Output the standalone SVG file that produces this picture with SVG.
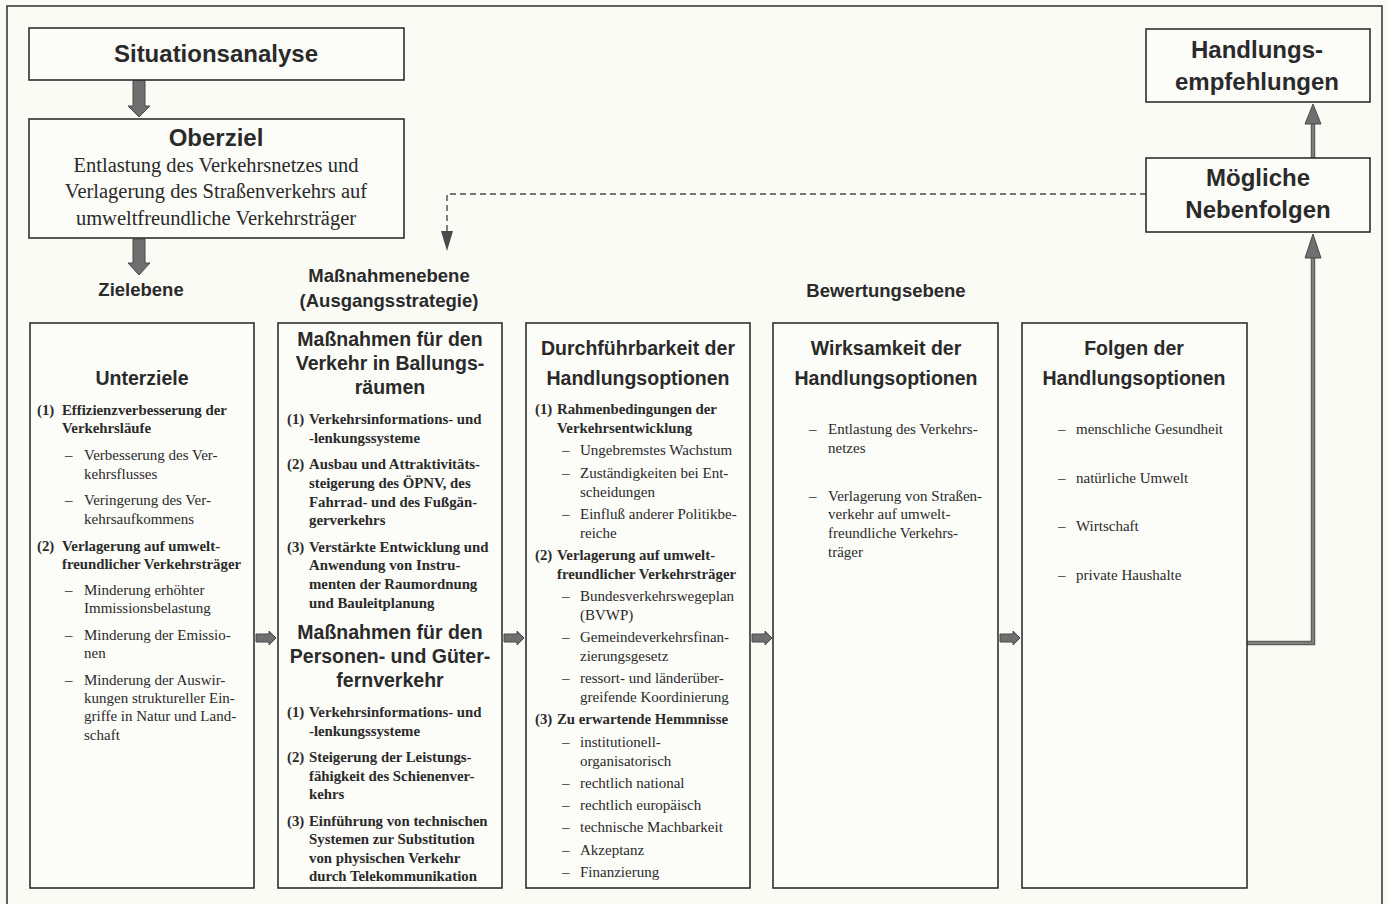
<svg xmlns="http://www.w3.org/2000/svg" width="1388" height="904" viewBox="0 0 1388 904">
<defs>
<style>
.bg{fill:#fbfbf6}
.box{fill:#fcfcf8;stroke:#2f2f2f;stroke-width:1.6}
.frame{fill:none;stroke:#3a3a3a;stroke-width:1.6}
.h1{font-family:"Liberation Sans",Arial,sans-serif;font-weight:bold;font-size:24px;fill:#2a2a2a;text-anchor:middle}
.h2{font-family:"Liberation Sans",Arial,sans-serif;font-weight:bold;font-size:19.5px;fill:#2a2a2a;text-anchor:middle}
.lvl{font-family:"Liberation Sans",Arial,sans-serif;font-weight:bold;font-size:18.5px;fill:#2a2a2a;text-anchor:middle}
.ser{font-family:"Liberation Serif","Times New Roman",serif;font-size:20.5px;fill:#2a2a2a;text-anchor:middle}
.t{font-family:"Liberation Serif","Times New Roman",serif;font-size:15px;fill:#2a2a2a}
.b{font-family:"Liberation Serif","Times New Roman",serif;font-size:14.8px;font-weight:bold;fill:#2a2a2a}
.garrow{fill:#6f6f6f;stroke:#4a4a4a;stroke-width:1}
.thick{fill:none;stroke:#5e5e5e;stroke-width:4.5}
.thickin{fill:none;stroke:#8a8a8a;stroke-width:1.5}
.dash{fill:none;stroke:#4a4a4a;stroke-width:1.4;stroke-dasharray:6 4}
</style>
</defs>
<rect class="bg" x="0" y="0" width="1388" height="904"/>
<rect class="frame" x="7" y="6" width="1375" height="910"/>

<g id="connectors">
  <!-- Situationsanalyse -> Oberziel -->
  <polygon class="garrow" points="133,80 145,80 145,106 150,106 139,117 128,106 133,106"/>
  <!-- Oberziel -> Zielebene -->
  <polygon class="garrow" points="133,239 145,239 145,263 150,263 139,275 128,263 133,263"/>
  <!-- dashed feedback from Mögliche Nebenfolgen to Maßnahmenebene -->
  <path class="dash" d="M1146,194 H447 V236"/>
  <polygon points="441,231 453,231 447,251" fill="#4a4a4a"/>
  <!-- column arrows -->
  <polygon class="garrow" points="256,634 269,634 269,631 276,638 269,645 269,642 256,642"/>
  <polygon class="garrow" points="504,634 517,634 517,631 524,638 517,645 517,642 504,642"/>
  <polygon class="garrow" points="752,634 765,634 765,631 772,638 765,645 765,642 752,642"/>
  <polygon class="garrow" points="1000,634 1013,634 1013,631 1020,638 1013,645 1013,642 1000,642"/>
  <!-- Folgen -> Mögliche Nebenfolgen -->
  <path class="thick" d="M1247,643 H1313 V256"/>
  <path class="thickin" d="M1247,643 H1313 V256"/>
  <polygon class="garrow" points="1305,258 1313,234 1321,258"/>
  <!-- Mögliche Nebenfolgen -> Handlungsempfehlungen -->
  <path class="thick" d="M1313,158 V124"/>
  <path class="thickin" d="M1313,158 V124"/>
  <polygon class="garrow" points="1305,124 1313,104 1321,124"/>
</g>

<g id="situationsanalyse">
  <rect class="box" x="29" y="28" width="375" height="52"/>
  <text class="h1" x="216" y="62">Situationsanalyse</text>
</g>

<g id="oberziel">
  <rect class="box" x="29" y="119" width="375" height="119"/>
  <text class="h1" x="216" y="146">Oberziel</text>
  <text class="ser" x="216" y="172">Entlastung des Verkehrsnetzes und</text>
  <text class="ser" x="216" y="198">Verlagerung des Straßenverkehrs auf</text>
  <text class="ser" x="216" y="225">umweltfreundliche Verkehrsträger</text>
</g>

<g id="handlungsempfehlungen">
  <rect class="box" x="1146" y="29" width="224" height="73"/>
  <text class="h1" x="1257" y="58">Handlungs-</text>
  <text class="h1" x="1257" y="90">empfehlungen</text>
</g>

<g id="nebenfolgen">
  <rect class="box" x="1146" y="158" width="224" height="74"/>
  <text class="h1" x="1258" y="186">Mögliche</text>
  <text class="h1" x="1258" y="218">Nebenfolgen</text>
</g>

<g id="labels">
  <text class="lvl" x="141" y="296">Zielebene</text>
  <text class="lvl" x="389" y="282">Maßnahmenebene</text>
  <text class="lvl" x="389" y="307">(Ausgangsstrategie)</text>
  <text class="lvl" x="886" y="297">Bewertungsebene</text>
</g>

<g id="unterziele">
  <rect class="box" x="30" y="323" width="224" height="565"/>
  <text class="h2" x="142" y="385">Unterziele</text>
  <text class="b" x="37" y="415">(1)</text><text class="b" x="62" y="415">Effizienzverbesserung der</text>
  <text class="b" x="62" y="433">Verkehrsläufe</text>
  <text class="t" x="65" y="460">–</text><text class="t" x="84" y="460">Verbesserung des Ver-</text>
  <text class="t" x="84" y="479">kehrsflusses</text>
  <text class="t" x="65" y="505">–</text><text class="t" x="84" y="505">Veringerung des Ver-</text>
  <text class="t" x="84" y="524">kehrsaufkommens</text>
  <text class="b" x="37" y="551">(2)</text><text class="b" x="62" y="551">Verlagerung auf umwelt-</text>
  <text class="b" x="62" y="569">freundlicher Verkehrsträger</text>
  <text class="t" x="65" y="595">–</text><text class="t" x="84" y="595">Minderung erhöhter</text>
  <text class="t" x="84" y="613">Immissionsbelastung</text>
  <text class="t" x="65" y="640">–</text><text class="t" x="84" y="640">Minderung der Emissio-</text>
  <text class="t" x="84" y="658">nen</text>
  <text class="t" x="65" y="685">–</text><text class="t" x="84" y="685">Minderung der Auswir-</text>
  <text class="t" x="84" y="703">kungen struktureller Ein-</text>
  <text class="t" x="84" y="721">griffe in Natur und Land-</text>
  <text class="t" x="84" y="740">schaft</text>
</g>

<g id="massnahmen">
  <rect class="box" x="278" y="323" width="224" height="565"/>
  <text class="h2" x="390" y="346">Maßnahmen für den</text>
  <text class="h2" x="390" y="370">Verkehr in Ballungs-</text>
  <text class="h2" x="390" y="394">räumen</text>
  <text class="b" x="287" y="424">(1)</text><text class="b" x="309" y="424">Verkehrsinformations- und</text>
  <text class="b" x="309" y="443">-lenkungssysteme</text>
  <text class="b" x="287" y="469">(2)</text><text class="b" x="309" y="469">Ausbau und Attraktivitäts-</text>
  <text class="b" x="309" y="488">steigerung des ÖPNV, des</text>
  <text class="b" x="309" y="507">Fahrrad- und des Fußgän-</text>
  <text class="b" x="309" y="525">gerverkehrs</text>
  <text class="b" x="287" y="552">(3)</text><text class="b" x="309" y="552">Verstärkte Entwicklung und</text>
  <text class="b" x="309" y="570">Anwendung von Instru-</text>
  <text class="b" x="309" y="589">menten der Raumordnung</text>
  <text class="b" x="309" y="608">und Bauleitplanung</text>
  <text class="h2" x="390" y="639">Maßnahmen für den</text>
  <text class="h2" x="390" y="663">Personen- und Güter-</text>
  <text class="h2" x="390" y="687">fernverkehr</text>
  <text class="b" x="287" y="717">(1)</text><text class="b" x="309" y="717">Verkehrsinformations- und</text>
  <text class="b" x="309" y="736">-lenkungssysteme</text>
  <text class="b" x="287" y="762">(2)</text><text class="b" x="309" y="762">Steigerung der Leistungs-</text>
  <text class="b" x="309" y="781">fähigkeit des Schienenver-</text>
  <text class="b" x="309" y="799">kehrs</text>
  <text class="b" x="287" y="826">(3)</text><text class="b" x="309" y="826">Einführung von technischen</text>
  <text class="b" x="309" y="844">Systemen zur Substitution</text>
  <text class="b" x="309" y="863">von physischen Verkehr</text>
  <text class="b" x="309" y="881">durch Telekommunikation</text>
</g>

<g id="durchfuehrbarkeit">
  <rect class="box" x="526" y="323" width="224" height="565"/>
  <text class="h2" x="638" y="355">Durchführbarkeit der</text>
  <text class="h2" x="638" y="385">Handlungsoptionen</text>
  <text class="b" x="535" y="414">(1)</text><text class="b" x="557" y="414">Rahmenbedingungen der</text>
  <text class="b" x="557" y="433">Verkehrsentwicklung</text>
  <text class="t" x="562" y="455">–</text><text class="t" x="580" y="455">Ungebremstes Wachstum</text>
  <text class="t" x="562" y="478">–</text><text class="t" x="580" y="478">Zuständigkeiten bei Ent-</text>
  <text class="t" x="580" y="497">scheidungen</text>
  <text class="t" x="562" y="519">–</text><text class="t" x="580" y="519">Einfluß anderer Politikbe-</text>
  <text class="t" x="580" y="538">reiche</text>
  <text class="b" x="535" y="560">(2)</text><text class="b" x="557" y="560">Verlagerung auf umwelt-</text>
  <text class="b" x="557" y="579">freundlicher Verkehrsträger</text>
  <text class="t" x="562" y="601">–</text><text class="t" x="580" y="601">Bundesverkehrswegeplan</text>
  <text class="t" x="580" y="620">(BVWP)</text>
  <text class="t" x="562" y="642">–</text><text class="t" x="580" y="642">Gemeindeverkehrsfinan-</text>
  <text class="t" x="580" y="661">zierungsgesetz</text>
  <text class="t" x="562" y="683">–</text><text class="t" x="580" y="683">ressort- und länderüber-</text>
  <text class="t" x="580" y="702">greifende Koordinierung</text>
  <text class="b" x="535" y="724">(3)</text><text class="b" x="557" y="724">Zu erwartende Hemmnisse</text>
  <text class="t" x="562" y="747">–</text><text class="t" x="580" y="747">institutionell-</text>
  <text class="t" x="580" y="766">organisatorisch</text>
  <text class="t" x="562" y="788">–</text><text class="t" x="580" y="788">rechtlich national</text>
  <text class="t" x="562" y="810">–</text><text class="t" x="580" y="810">rechtlich europäisch</text>
  <text class="t" x="562" y="832">–</text><text class="t" x="580" y="832">technische Machbarkeit</text>
  <text class="t" x="562" y="855">–</text><text class="t" x="580" y="855">Akzeptanz</text>
  <text class="t" x="562" y="877">–</text><text class="t" x="580" y="877">Finanzierung</text>
</g>

<g id="wirksamkeit">
  <rect class="box" x="773" y="323" width="225" height="565"/>
  <text class="h2" x="886" y="355">Wirksamkeit der</text>
  <text class="h2" x="886" y="385">Handlungsoptionen</text>
  <text class="t" x="809" y="434">–</text><text class="t" x="828" y="434">Entlastung des Verkehrs-</text>
  <text class="t" x="828" y="453">netzes</text>
  <text class="t" x="809" y="501">–</text><text class="t" x="828" y="501">Verlagerung von Straßen-</text>
  <text class="t" x="828" y="519">verkehr auf umwelt-</text>
  <text class="t" x="828" y="538">freundliche Verkehrs-</text>
  <text class="t" x="828" y="557">träger</text>
</g>

<g id="folgen">
  <rect class="box" x="1022" y="323" width="225" height="565"/>
  <text class="h2" x="1134" y="355">Folgen der</text>
  <text class="h2" x="1134" y="385">Handlungsoptionen</text>
  <text class="t" x="1058" y="434">–</text><text class="t" x="1076" y="434">menschliche Gesundheit</text>
  <text class="t" x="1058" y="483">–</text><text class="t" x="1076" y="483">natürliche Umwelt</text>
  <text class="t" x="1058" y="531">–</text><text class="t" x="1076" y="531">Wirtschaft</text>
  <text class="t" x="1058" y="580">–</text><text class="t" x="1076" y="580">private Haushalte</text>
</g>
</svg>
